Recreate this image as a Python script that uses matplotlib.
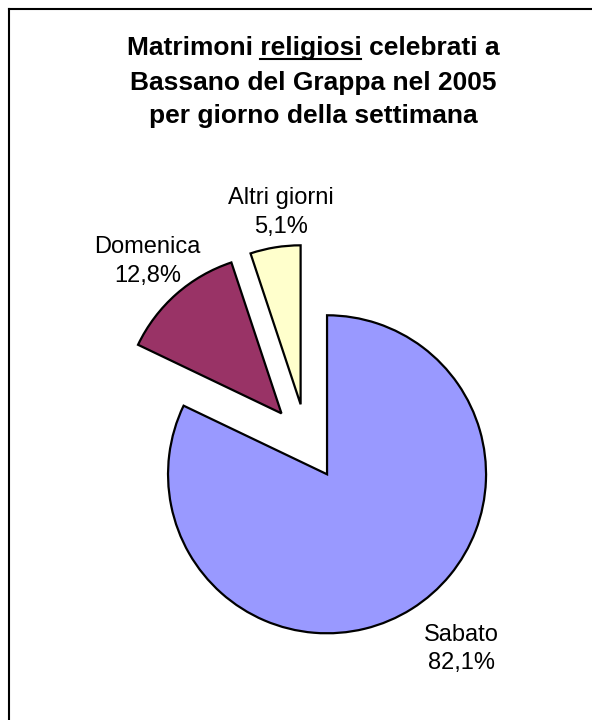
import matplotlib
matplotlib.use("Agg")
import matplotlib.pyplot as plt
import numpy as np
from matplotlib.lines import Line2D

categories = ["Sabato", "Domenica", "Altri giorni"]
values = [82.1, 12.8, 5.1]
pct_labels = ["82,1%", "12,8%", "5,1%"]
colors = ["#9999FF", "#993366", "#FFFFCC"]

W, H, DPI = 592, 720, 100
fig = plt.figure(figsize=(W / DPI, H / DPI), dpi=DPI)
plt.rcParams['font.family'] = ['Liberation Sans', 'DejaVu Sans']

# Axes covering the whole figure; 1 data unit = R pixels
R = 159.0
cx, cy = 306.7, 442.0
ax = fig.add_axes([0, 0, 1, 1])

wedges, _ = ax.pie(values, colors=colors, startangle=90, counterclock=False,
                   explode=[0.24] * 3, radius=1.0,
                   wedgeprops=dict(edgecolor="black", linewidth=1.6))
ax.set_aspect("auto")
ax.set_xlim(-cx / R, (W - cx) / R)
ax.set_ylim(-(H - cy) / R, cy / R)
ax.axis("off")

fsl = 17
label_dist = [1.624, 1.514, 1.453]
label_rot = [4.5, 0.0, -2.7]
for w, cat, pct, d, rot in zip(wedges, categories, pct_labels, label_dist, label_rot):
    mid = np.deg2rad((w.theta1 + w.theta2) / 2 + rot)
    ax.text(d * np.cos(mid), d * np.sin(mid), f"{cat}\n{pct}",
            ha="center", va="center", fontsize=fsl, linespacing=1.4)

# Border (top and left visible)
fig.add_artist(Line2D([8.5 / W, 1.0], [1 - 9 / H, 1 - 9 / H], transform=fig.transFigure,
                      color="black", linewidth=1.5))
fig.add_artist(Line2D([8.5 / W, 8.5 / W], [1 - 9 / H, 0.0], transform=fig.transFigure,
                      color="black", linewidth=1.5))

# Title
title_lines = ["Matrimoni religiosi celebrati a",
               "Bassano del Grappa nel 2005",
               "per giorno della settimana"]
baselines = [55, 90, 123]
tx = 313.0
fs = 19
texts = []
for line, b in zip(title_lines, baselines):
    t = fig.text(tx / W, 1 - b / H, line, ha="center", va="baseline",
                 fontsize=fs, fontweight="bold")
    texts.append(t)

fig.canvas.draw()
renderer = fig.canvas.get_renderer()
bb = texts[0].get_window_extent(renderer)
def width(s):
    tt = fig.text(0, 0, s, fontsize=fs, fontweight="bold")
    w = tt.get_window_extent(renderer).width
    tt.remove()
    return w
w_pre = width("Matrimoni religiosi")
w_rel = width("religiosi")
x1 = bb.x0 + w_pre
x0 = x1 - w_rel
yb = H - baselines[0] - 3.5
fig.add_artist(Line2D([x0 / W, x1 / W], [yb / H, yb / H], transform=fig.transFigure,
                      color="black", linewidth=1.5))

fig.savefig("out.png", dpi=DPI)
